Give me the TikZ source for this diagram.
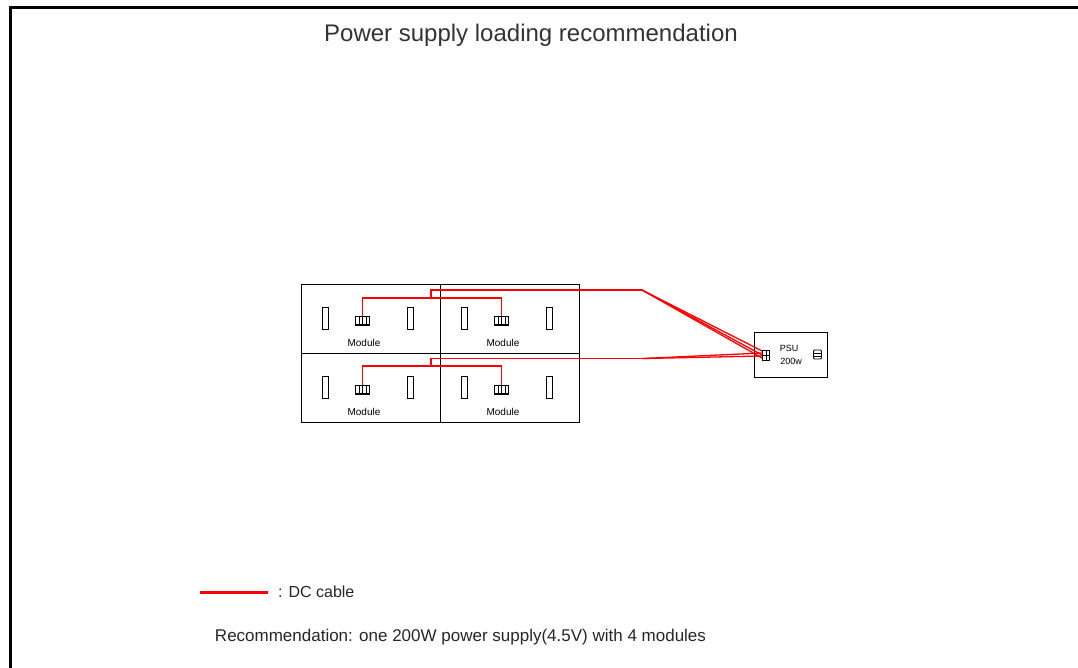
\documentclass[tikz,border=0pt]{standalone}
\usepackage{fontspec}
\setmainfont{Liberation Sans}
\usetikzlibrary{calc}
\tikzset{
	cable/.style={draw=red, line width=1.3pt},
	slot/.style={draw, line width=0.8pt, minimum width=6pt, minimum height=22pt, inner sep=0pt},
	plug/.style={draw, line width=0.8pt, minimum width=14pt, minimum height=8pt, inner sep=0pt},
	modlabel/.style={font=\fontsize{10}{10}\selectfont, inner sep=0pt},
}

\begin{document}
\begin{tikzpicture}[x=1pt, y=-1pt]
			%%%%% START %%%%%
			\useasboundingbox (0,0) rectangle (1078,668);
			
			\draw[line width=3pt] (10,668) -- (10,8) -- (1078,8);
			\node[anchor=base, font=\fontsize{24}{24}\selectfont, text=black!80] (title) at (531,42) {Power supply loading recommendation};
			
			% four modules
			\foreach \n/\x/\y in {1/301/284, 2/440/284, 3/301/353, 4/440/353} {
				\draw[line width=1pt] (\x,\y) rectangle ++(139,69);
				\node[slot] (sa\n) at (\x+24.5,\y+34.5) {};
				\node[slot] (sb\n) at (\x+109.5,\y+34.5) {};
				\node[plug] (p\n) at (\x+61.5,\y+36.5) {};
				\foreach \k in {-3.5,0,3.5}
					\draw[line width=0.6pt] ($(p\n.south)+(\k,0)$) -- ($(p\n.north)+(\k,0)$);
				\draw[line width=1.4pt] (p\n.south west) -- (p\n.south east);
				\node[modlabel] (m\n) at (\x+63,\y+59) {Module};
			}
			
			% psu
			\node[draw, line width=1pt, minimum width=73pt, minimum height=45pt, inner sep=0pt] (psu) at (790.5,354.5) {};
			\node[draw, line width=0.8pt, minimum width=7pt, minimum height=10pt, inner sep=0pt] (pc) at (766,355) {};
			\draw[line width=0.6pt] (pc.west) -- (pc.east) (pc.north) -- (pc.south);
			\node[draw, line width=0.8pt, rounded corners=1pt, minimum width=8pt, minimum height=9pt, inner sep=0pt] (fan) at (817.5,354.5) {};
			\draw[line width=0.6pt] ($(fan.west)+(0,-1.5)$) -- ($(fan.east)+(0,-1.5)$) ($(fan.west)+(0,1.5)$) -- ($(fan.east)+(0,1.5)$);
			\node[modlabel, font=\fontsize{9}{9}\selectfont] (psutxt) at (789,348) {PSU};
			\node[modlabel, font=\fontsize{9}{9}\selectfont] (wtxt) at (791,361) {200w};
			
			% dc cables
			\coordinate (jt) at (431,298);
			\coordinate (bt) at (642,290);
			\coordinate (jb) at (431,367);
			\coordinate (bb) at (643,358.5);
			\draw[cable] (p1.north) -- ++(0,-18) -| (p2.north);
			\draw[cable] (jt) |- (bt);
			\draw[cable] (bt) -- ($(pc.west)+(0,-4)$);
			\draw[cable] (bt) -- (pc.west);
			\draw[cable] (bt) -- ($(pc.west)+(0,3)$);
			\draw[cable] (p3.north) -- ++(0,-19) -| (p4.north);
			\draw[cable] (jb) |- (bb);
			\draw[cable] (bb) -- ($(pc.west)+(0,1)$);
			\draw[cable] (bb) -- ($(pc.west)+(0,-2)$);
			
			% legend
			\coordinate (la) at (200,592);
			\coordinate (lb) at (268,592);
			\draw[red, line width=3pt] (la) -- (lb);
			\node[anchor=west, inner sep=0pt, font=\fontsize{16}{16}\selectfont, text=black!85] (leg) at (278,592) {: DC cable};
			\node[inner sep=0pt, font=\fontsize{17}{17}\selectfont, text=black!85] (rec) at (460.5,637) {Recommendation: one 200W power supply(4.5V) with 4 modules};
			
			%%%%% END %%%%%
\end{tikzpicture}
\end{document}
